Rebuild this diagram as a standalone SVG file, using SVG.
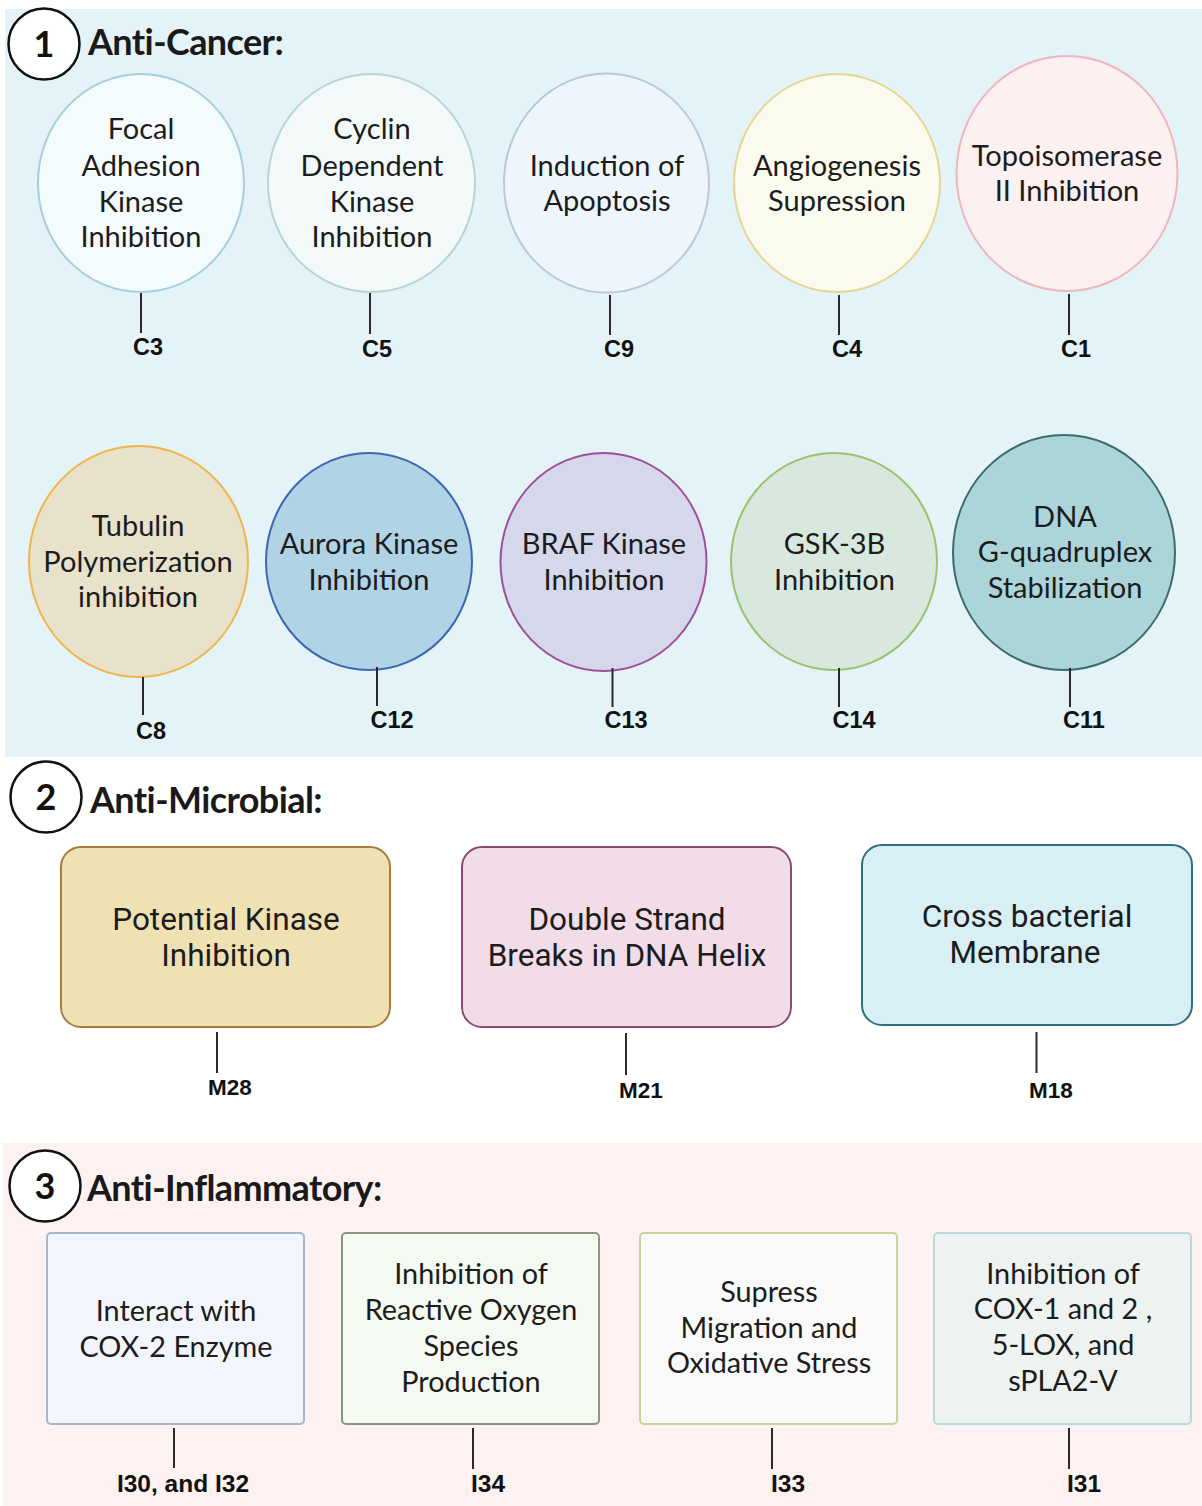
<svg xmlns="http://www.w3.org/2000/svg" width="1202" height="1506" viewBox="0 0 1202 1506">
  <style>
    .head { font-family: Lato, "Open Sans", sans-serif; font-weight: 700; font-size: 36px; fill: #1a1a1a; letter-spacing: -0.6px; }
    .num { font-family: Lato, "Liberation Sans", sans-serif; font-weight: 700; font-size: 36px; fill: #111; text-anchor: middle; }
    .badge { fill: #ffffff; stroke: #111; stroke-width: 2.5; }
    .ct { font-family: Lato, "Open Sans", sans-serif; font-size: 29px; fill: #1c1c1c; text-anchor: middle; }
    .bt { font-family: Roboto, "Liberation Sans", sans-serif; font-size: 31.5px; fill: #1c1c1c; text-anchor: middle; }
    .it { font-family: Lato, "Open Sans", sans-serif; font-size: 28.8px; fill: #1c1c1c; text-anchor: middle; }
    .lab { font-family: "Liberation Sans", Arial, sans-serif; font-weight: 700; font-size: 23.5px; fill: #111; text-anchor: middle; }
    .lab2 { font-family: "Liberation Sans", Arial, sans-serif; font-weight: 700; font-size: 22.5px; fill: #111; text-anchor: middle; }
    .lab3 { font-family: "Liberation Sans", Arial, sans-serif; font-weight: 700; font-size: 24.5px; fill: #111; text-anchor: middle; }
    .tick { stroke: #2a2a2a; stroke-width: 2; fill: none; }
  </style>

  <!-- section backgrounds -->
  <rect x="0" y="0" width="1202" height="1506" fill="#ffffff"/>
  <rect x="5" y="9" width="1197" height="748" fill="#e4f3f8"/>
  <rect x="3" y="1143" width="1199" height="363" fill="#fdf1f1"/>

  <!-- section headings -->
  <g id="heading-1">
    <circle class="badge" cx="44" cy="44" r="35.5"/>
    <text class="num" x="44" y="57">1</text>
    <text class="head" x="88" y="55">Anti-Cancer:</text>
  </g>
  <g id="heading-2">
    <circle class="badge" cx="46" cy="797" r="35.5"/>
    <text class="num" x="46" y="810">2</text>
    <text class="head" x="90" y="813">Anti-Microbial:</text>
  </g>
  <g id="heading-3">
    <circle class="badge" cx="45" cy="1186" r="35.5"/>
    <text class="num" x="45" y="1199">3</text>
    <text class="head" x="87" y="1201">Anti-Inflammatory:</text>
  </g>

  <!-- anti-cancer row 1 -->
  <g id="focal-adhesion">
    <ellipse cx="141" cy="183" rx="103" ry="109" fill="#f4fbfd" stroke="#a6cfdb" stroke-width="2"/>
    <text class="ct" x="141" y="139">Focal</text>
    <text class="ct" x="141" y="176">Adhesion</text>
    <text class="ct" x="141" y="212">Kinase</text>
    <text class="ct" x="141" y="247">Inhibition</text>
  </g>
  <g id="cyclin-dependent">
    <ellipse cx="371.5" cy="183" rx="103.5" ry="109" fill="#f2f9f8" stroke="#b6d6d3" stroke-width="2"/>
    <text class="ct" x="372" y="139">Cyclin</text>
    <text class="ct" x="372" y="176">Dependent</text>
    <text class="ct" x="372" y="212">Kinase</text>
    <text class="ct" x="372" y="247">Inhibition</text>
  </g>
  <g id="apoptosis">
    <ellipse cx="606.5" cy="183" rx="102.5" ry="109.5" fill="#eff6fb" stroke="#b9c9da" stroke-width="2"/>
    <text class="ct" x="607" y="176">Induction of</text>
    <text class="ct" x="607" y="211">Apoptosis</text>
  </g>
  <g id="angiogenesis">
    <ellipse cx="837" cy="183" rx="103" ry="109" fill="#fbfaef" stroke="#e5d592" stroke-width="2"/>
    <text class="ct" x="837" y="176">Angiogenesis</text>
    <text class="ct" x="837" y="211">Supression</text>
  </g>
  <g id="topoisomerase">
    <ellipse cx="1067" cy="173.5" rx="110.5" ry="117.5" fill="#fdf0f1" stroke="#eeb5bb" stroke-width="2"/>
    <text class="ct" x="1067" y="166">Topoisomerase</text>
    <text class="ct" x="1067" y="201">II Inhibition</text>
  </g>

  <!-- anti-cancer row 2 -->
  <g id="tubulin">
    <ellipse cx="138.5" cy="561.5" rx="109.5" ry="115.5" fill="#e8e2cb" stroke="#efb44a" stroke-width="2"/>
    <text class="ct" x="138" y="536">Tubulin</text>
    <text class="ct" x="138" y="572">Polymerization</text>
    <text class="ct" x="138" y="607">inhibition</text>
  </g>
  <g id="aurora-kinase">
    <ellipse cx="369" cy="561.5" rx="103" ry="108.5" fill="#b0d3e6" stroke="#3b67b1" stroke-width="2"/>
    <text class="ct" x="369" y="554">Aurora Kinase</text>
    <text class="ct" x="369" y="590">Inhibition</text>
  </g>
  <g id="braf-kinase">
    <ellipse cx="603.5" cy="562" rx="103" ry="109" fill="#d5d8ea" stroke="#a0509a" stroke-width="2"/>
    <text class="ct" x="604" y="554">BRAF Kinase</text>
    <text class="ct" x="604" y="590">Inhibition</text>
  </g>
  <g id="gsk-3b">
    <ellipse cx="834" cy="561.5" rx="103" ry="108.5" fill="#d9e8de" stroke="#98c46e" stroke-width="2"/>
    <text class="ct" x="834.5" y="554">GSK-3B</text>
    <text class="ct" x="834.5" y="590">Inhibition</text>
  </g>
  <g id="g-quadruplex">
    <ellipse cx="1064" cy="552.5" rx="111" ry="117.5" fill="#acd5d9" stroke="#3c6b6c" stroke-width="2"/>
    <text class="ct" x="1065" y="527">DNA</text>
    <text class="ct" x="1065" y="562">G-quadruplex</text>
    <text class="ct" x="1065" y="598">Stabilization</text>
  </g>

  <!-- anti-microbial -->
  <g id="kinase-inhibition">
    <rect x="61" y="847" width="329" height="180" rx="20" fill="#f0e1b3" stroke="#a87a3c" stroke-width="2"/>
    <text class="bt" x="226" y="930">Potential Kinase</text>
    <text class="bt" x="226" y="966">Inhibition</text>
  </g>
  <g id="dna-breaks">
    <rect x="462" y="847" width="329" height="180" rx="20" fill="#f2dce8" stroke="#8a4a73" stroke-width="2"/>
    <text class="bt" x="627" y="930">Double Strand</text>
    <text class="bt" x="627" y="966">Breaks in DNA Helix</text>
  </g>
  <g id="bacterial-membrane">
    <rect x="862" y="845" width="330" height="180" rx="20" fill="#d9eff6" stroke="#2e6f80" stroke-width="2"/>
    <text class="bt" x="1027" y="927">Cross bacterial</text>
    <text class="bt" x="1025" y="963">Membrane</text>
  </g>

  <!-- anti-inflammatory -->
  <g id="cox-2">
    <rect x="47" y="1233" width="257" height="191" rx="4" fill="#f2f5fb" stroke="#a9b5c9" stroke-width="2"/>
    <text class="it" x="176" y="1321">Interact with</text>
    <text class="it" x="176" y="1357">COX-2 Enzyme</text>
  </g>
  <g id="ros-production">
    <rect x="342" y="1233" width="257" height="191" rx="4" fill="#f4f9f1" stroke="#8a957f" stroke-width="2"/>
    <text class="it" x="471" y="1284">Inhibition of</text>
    <text class="it" x="471" y="1320">Reactive Oxygen</text>
    <text class="it" x="471" y="1356">Species</text>
    <text class="it" x="471" y="1392">Production</text>
  </g>
  <g id="oxidative-stress">
    <rect x="640" y="1233" width="257" height="191" rx="4" fill="#f9f9f9" stroke="#c8d39a" stroke-width="2"/>
    <text class="it" x="769" y="1302">Supress</text>
    <text class="it" x="769" y="1338">Migration and</text>
    <text class="it" x="769" y="1373">Oxidative Stress</text>
  </g>
  <g id="cox-lox">
    <rect x="934" y="1233" width="257" height="191" rx="4" fill="#eef2f0" stroke="#b6d9d9" stroke-width="2"/>
    <text class="it" x="1063" y="1284">Inhibition of</text>
    <text class="it" x="1063" y="1319">COX-1 and 2 ,</text>
    <text class="it" x="1063" y="1355">5-LOX, and</text>
    <text class="it" x="1063" y="1391">sPLA2-V</text>
  </g>

  <!-- connectors: ticks from each node to its compound label -->
  <g id="connectors">
    <line class="tick" x1="141" y1="293" x2="141" y2="333"/>
    <line class="tick" x1="370" y1="293" x2="370" y2="334"/>
    <line class="tick" x1="610" y1="295" x2="610" y2="335"/>
    <line class="tick" x1="839" y1="295" x2="839" y2="335"/>
    <line class="tick" x1="1069" y1="294" x2="1069" y2="335"/>
    <line class="tick" x1="143" y1="677" x2="143" y2="715"/>
    <line class="tick" x1="377" y1="667" x2="377" y2="706"/>
    <line class="tick" x1="612.5" y1="668" x2="612.5" y2="707"/>
    <line class="tick" x1="839" y1="668" x2="839" y2="707"/>
    <line class="tick" x1="1070" y1="668" x2="1070" y2="707"/>
    <line class="tick" x1="217" y1="1032" x2="217" y2="1073"/>
    <line class="tick" x1="626" y1="1033" x2="626" y2="1075"/>
    <line class="tick" x1="1036.5" y1="1032" x2="1036.5" y2="1073"/>
    <line class="tick" x1="174" y1="1428" x2="174" y2="1468"/>
    <line class="tick" x1="473" y1="1428" x2="473" y2="1469"/>
    <line class="tick" x1="772" y1="1428" x2="772" y2="1469"/>
    <line class="tick" x1="1069" y1="1428" x2="1069" y2="1469"/>
  </g>

  <!-- compound labels -->
  <g id="labels">
    <text class="lab" x="148" y="355">C3</text>
    <text class="lab" x="377" y="357">C5</text>
    <text class="lab" x="619" y="357">C9</text>
    <text class="lab" x="847" y="357">C4</text>
    <text class="lab" x="1076" y="357">C1</text>
    <text class="lab" x="151" y="739">C8</text>
    <text class="lab" x="392" y="728">C12</text>
    <text class="lab" x="626" y="728">C13</text>
    <text class="lab" x="854" y="728">C14</text>
    <text class="lab" x="1084" y="728">C11</text>
    <text class="lab2" x="230" y="1095">M28</text>
    <text class="lab2" x="641" y="1098">M21</text>
    <text class="lab2" x="1051" y="1098">M18</text>
    <text class="lab3" x="183" y="1492">I30, and I32</text>
    <text class="lab3" x="488" y="1492">I34</text>
    <text class="lab3" x="788" y="1492">I33</text>
    <text class="lab3" x="1084" y="1492">I31</text>
  </g>
</svg>
